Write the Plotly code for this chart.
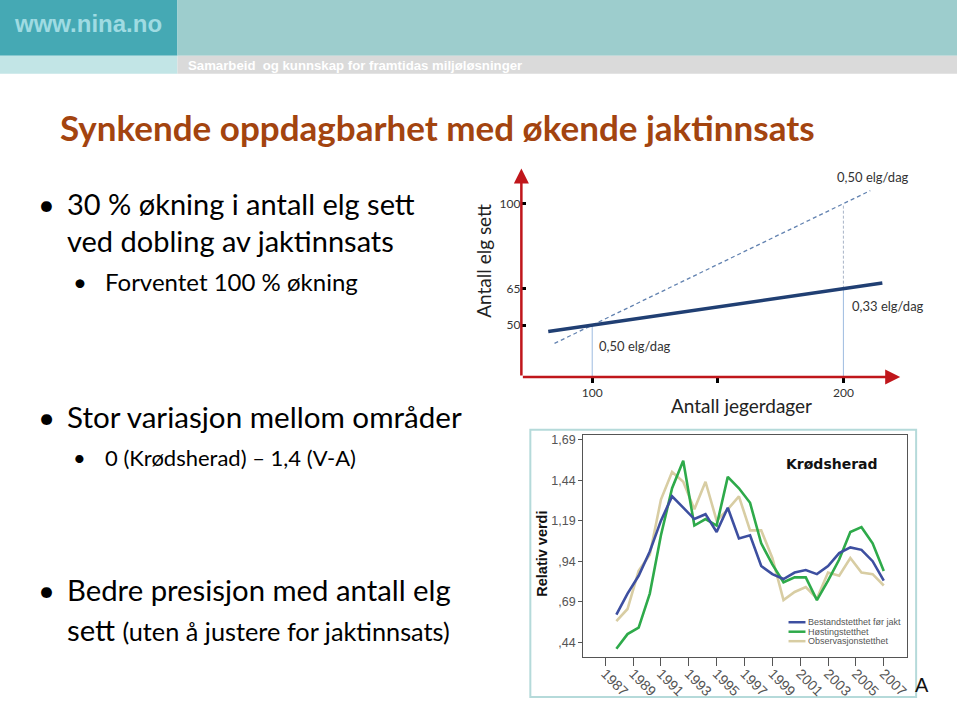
import plotly.graph_objects as go

W, H = 960, 707


def px(x):
    return x / W


def py(y):
    return 1 - y / H


# ---------------- data ----------------
# top schematic chart: hunter-days vs moose seen
effort_obs = [82.5, 100, 200, 215.5]
seen_obs = [47.4, 50, 65, 67.3]
effort_exp = [85, 100, 200, 210.7]
seen_exp = [42.5, 50, 100, 105.3]
top_x_range = [71.8, 222.6]
top_y_range = [28.7, 114.4]
top_xticks = [100, 150, 200]
top_xticklabels = ["100", "", "200"]
top_yticks = [50, 65, 100]
top_yticklabels = ["50", "65", "100"]

# bottom chart: Krødsherad relative values
obs_index = list(range(25))
bestand = [0.61, 0.74, 0.85, 1.00, 1.19, 1.34, 1.27, 1.20, 1.23, 1.12, 1.27, 1.08, 1.10,
           0.91, 0.86, 0.83, 0.87, 0.885, 0.86, 0.91, 0.99, 1.025, 1.01, 0.94, 0.82]
hosting = [0.40, 0.49, 0.53, 0.74, 1.10, 1.39, 1.56, 1.16, 1.20, 1.16, 1.46, 1.39, 1.30,
           1.05, 0.92, 0.81, 0.84, 0.84, 0.70, 0.82, 0.95, 1.12, 1.15, 1.05, 0.88]
observasjon = [0.57, 0.645, 0.88, 0.98, 1.32, 1.49, 1.43, 1.26, 1.43, 1.19, 1.26, 1.34, 1.13,
               1.13, 0.96, 0.70, 0.75, 0.78, 0.71, 0.87, 0.85, 0.96, 0.87, 0.86, 0.79]
series_names = ["Bestandstetthet før jakt", "Høstingstetthet", "Observasjonstetthet"]
series_colors = ["#3d4fa0", "#2eaa4a", "#d8cda3"]
year_tick_pos = [-1, 1.5, 4, 6.5, 9, 11.5, 14, 16.5, 19, 21.5, 24]
year_labels = ["1987", "1989", "1991", "1993", "1995", "1997", "1999", "2001", "2003", "2005", "2007"]
bottom_x_range = [-2.98, 26.1]
bottom_y_range = [0.348, 1.72]
rel_ticks = [0.44, 0.69, 0.94, 1.19, 1.44, 1.69]
rel_ticklabels = [",44", ",69", ",94", "1,19", "1,44", "1,69"]

BODY = "Lato, Carlito, Calibri, sans-serif"
ARIAL = "Liberation Sans, Arial, sans-serif"
RED = "#c0161b"

fig = go.Figure()

# ---------- top chart traces ----------
fig.add_trace(go.Scatter(x=[top_xticks[0], top_xticks[0]], y=[top_y_range[0], seen_obs[1]],
                         mode="lines", line=dict(color="#9dbbe0", width=1),
                         xaxis="x", yaxis="y", hoverinfo="skip", showlegend=False))
fig.add_trace(go.Scatter(x=[top_xticks[2], top_xticks[2]], y=[top_y_range[0], seen_obs[2]],
                         mode="lines", line=dict(color="#9dbbe0", width=1),
                         xaxis="x", yaxis="y", hoverinfo="skip", showlegend=False))
fig.add_trace(go.Scatter(x=[top_xticks[2], top_xticks[2]], y=[seen_obs[2], seen_exp[2]],
                         mode="lines", line=dict(color="#a8b4c8", width=1, dash="3px,2px"),
                         xaxis="x", yaxis="y", hoverinfo="skip", showlegend=False))
fig.add_trace(go.Scatter(x=effort_exp, y=seen_exp, mode="lines",
                         line=dict(color="#6282b0", width=1.3, dash="4px,3px"),
                         xaxis="x", yaxis="y", showlegend=False))
fig.add_trace(go.Scatter(x=effort_obs, y=seen_obs, mode="lines",
                         line=dict(color="#203f73", width=3.5),
                         xaxis="x", yaxis="y", showlegend=False))

# ---------- bottom chart traces ----------
for name, vals, col in [(series_names[2], observasjon, series_colors[2]),
                        (series_names[1], hosting, series_colors[1]),
                        (series_names[0], bestand, series_colors[0])]:
    fig.add_trace(go.Scatter(x=obs_index, y=vals, mode="lines", name=name,
                             line=dict(color=col, width=2.6),
                             xaxis="x2", yaxis="y2", showlegend=False))

shapes = []
annotations = []

# header bands
shapes += [
    dict(type="rect", xref="paper", yref="paper", x0=px(0), x1=px(178), y0=py(57), y1=py(0),
         fillcolor="#45a9b4", line=dict(width=0), layer="below"),
    dict(type="rect", xref="paper", yref="paper", x0=px(178), x1=px(960), y0=py(57), y1=py(0),
         fillcolor="#9dcdcd", line=dict(width=0), layer="below"),
    dict(type="rect", xref="paper", yref="paper", x0=px(0), x1=px(178), y0=py(75), y1=py(57),
         fillcolor="#c2e5e6", line=dict(width=0), layer="below"),
    dict(type="rect", xref="paper", yref="paper", x0=px(178), x1=px(960), y0=py(75), y1=py(57),
         fillcolor="#dadada", line=dict(width=0), layer="below"),
    # frame of bottom chart
    dict(type="rect", xref="paper", yref="paper", x0=px(532), x1=px(919), y0=py(700), y1=py(432),
         fillcolor="white", line=dict(color="#b5dada", width=2), layer="below"),
]

# manual legend for bottom chart
leg_y = [625, 634.5, 644]
for i, (name, col) in enumerate(zip(series_names, series_colors)):
    shapes.append(dict(type="line", xref="paper", yref="paper", x0=px(791), x1=px(808),
                       y0=py(leg_y[i]), y1=py(leg_y[i]), line=dict(color=col, width=2.5)))
    annotations.append(dict(text=name, xref="paper", yref="paper", x=px(809), y=py(leg_y[i]),
                            xanchor="left", yanchor="middle", showarrow=False,
                            font=dict(family=ARIAL, size=9, color="#555555")))

annotations += [
    dict(text="<b>www.nina.no</b>", xref="paper", yref="paper", x=px(88), y=py(25),
         xanchor="center", yanchor="middle", showarrow=False,
         font=dict(family=ARIAL, size=24, color="#9fdbe2")),
    dict(text="<b>Samarbeid  og kunnskap for framtidas miljøløsninger</b>", xref="paper", yref="paper",
         x=px(187), y=py(67), xanchor="left", yanchor="middle", showarrow=False,
         font=dict(family=ARIAL, size=13.2, color="white")),
    dict(text="<b>Synkende oppdagbarhet med økende jaktinnsats</b>", xref="paper", yref="paper",
         x=px(58), y=py(128), xanchor="left", yanchor="middle", showarrow=False,
         font=dict(family=BODY, size=35, color="#a3440f")),
]

body_lines = [
    (47, 65, 205, "30 % økning i antall elg sett", 29),
    (None, 65, 242, "ved dobling av jaktinnsats", 29),
    (80, 103, 283, "Forventet 100 % økning", 24),
    (47, 65, 419, "Stor variasjon mellom områder", 29.6),
    (80, 103, 460, "0 (Krødsherad) – 1,4 (V-A)", 22),
    (47, 65, 592, "Bedre presisjon med antall elg", 29.3),
    (None, 65, 632, "sett <span style='font-size:25.3px'>(uten å justere for jaktinnsats)</span>", 29.3),
]
for bx, tx, ty, txt, sz in body_lines:
    if bx is not None:
        annotations.append(dict(text="•", xref="paper", yref="paper", x=px(bx), y=py(ty),
                                xanchor="center", yanchor="middle", showarrow=False,
                                font=dict(family=BODY, size=sz, color="black")))
    annotations.append(dict(text=txt, xref="paper", yref="paper", x=px(tx), y=py(ty),
                            xanchor="left", yanchor="middle", showarrow=False,
                            font=dict(family=BODY, size=sz, color="black")))

# top chart: axes as arrows
annotations += [
    dict(x=top_x_range[1], y=top_y_range[0], ax=top_x_range[0], ay=top_y_range[0],
         xref="x", yref="y", axref="x", ayref="y", text="", showarrow=True,
         arrowhead=2, arrowsize=1.2, arrowwidth=2.5, arrowcolor=RED),
    dict(x=top_x_range[0], y=top_y_range[1], ax=top_x_range[0], ay=top_y_range[0],
         xref="x", yref="y", axref="x", ayref="y", text="", showarrow=True,
         arrowhead=2, arrowsize=1.2, arrowwidth=2.5, arrowcolor=RED),
    dict(text="Antall elg sett", xref="paper", yref="paper", x=px(485), y=py(262), textangle=-90,
         xanchor="center", yanchor="middle", showarrow=False, font=dict(family=BODY, size=19, color="#222")),
    dict(text="Antall jegerdager", xref="paper", yref="paper", x=px(744), y=py(408),
         xanchor="center", yanchor="middle", showarrow=False, font=dict(family=BODY, size=19, color="#222")),
    dict(text="0,50 elg/dag", xref="paper", yref="paper", x=px(876), y=py(179),
         xanchor="center", yanchor="middle", showarrow=False, font=dict(family=BODY, size=13, color="#333")),
    dict(text="0,33 elg/dag", xref="paper", yref="paper", x=px(891), y=py(308),
         xanchor="center", yanchor="middle", showarrow=False, font=dict(family=BODY, size=13, color="#333")),
    dict(text="0,50 elg/dag", xref="paper", yref="paper", x=px(637), y=py(348),
         xanchor="center", yanchor="middle", showarrow=False, font=dict(family=BODY, size=13, color="#333")),
    # bottom chart labels
    dict(text="<b>Relativ verdi</b>", xref="paper", yref="paper", x=px(544), y=py(556), textangle=-90,
         xanchor="center", yanchor="middle", showarrow=False,
         font=dict(family=ARIAL, size=14.5, color="#111")),
    dict(text="<b>Krødsherad</b>", xref="paper", yref="paper", x=px(835), y=py(466),
         xanchor="center", yanchor="middle", showarrow=False,
         font=dict(family="DejaVu Sans, Verdana, sans-serif", size=14, color="#111")),
    dict(text="A", xref="paper", yref="paper", x=px(916), y=py(688),
         xanchor="left", yanchor="middle", showarrow=False,
         font=dict(family=ARIAL, size=20, color="#111")),
]

fig.update_layout(
    width=W, height=H, margin=dict(l=0, r=0, t=0, b=0),
    paper_bgcolor="white", plot_bgcolor="rgba(0,0,0,0)",
    showlegend=False, shapes=shapes, annotations=annotations,
    xaxis=dict(domain=[px(523), px(903)], range=top_x_range, showgrid=False, zeroline=False,
               showline=False, tickvals=top_xticks, ticktext=top_xticklabels, ticks="outside",
               ticklen=5, tickwidth=3, tickcolor="black",
               tickfont=dict(family=BODY, size=12, color="#333"), anchor="y"),
    yaxis=dict(domain=[py(379), py(170)], range=top_y_range, showgrid=False, zeroline=False,
               showline=False, tickvals=top_yticks, ticktext=top_yticklabels, ticks="inside",
               ticklen=5, tickwidth=3, tickcolor="black",
               tickfont=dict(family=BODY, size=12, color="#333"), anchor="x"),
    xaxis2=dict(domain=[px(585), px(910)], range=bottom_x_range, showgrid=False, zeroline=False,
                showline=True, mirror=True, linecolor="#555", linewidth=1,
                tickvals=year_tick_pos, ticktext=year_labels, ticks="outside", ticklen=8,
                tickcolor="#555", tickangle=45, ticklabelstandoff=-6,
                tickfont=dict(family=ARIAL, size=14, color="#555"), anchor="y2"),
    yaxis2=dict(domain=[py(660), py(437)], range=bottom_y_range, showgrid=False, zeroline=False,
                showline=True, mirror=True, linecolor="#555", linewidth=1,
                tickvals=rel_ticks, ticktext=rel_ticklabels, ticks="outside", ticklen=4,
                tickcolor="#555", tickfont=dict(family=ARIAL, size=12.5, color="#555"), anchor="x2"),
)

fig.write_html(
    "out.html",
    config={"displayModeBar": False},
    post_script=("document.body.style.margin='0px';document.body.style.overflow='hidden';"
                 "var d=document.getElementById('{plot_id}');d.style.position='absolute';"
                 "d.style.top='-3px';d.style.left='0px';"),
)
